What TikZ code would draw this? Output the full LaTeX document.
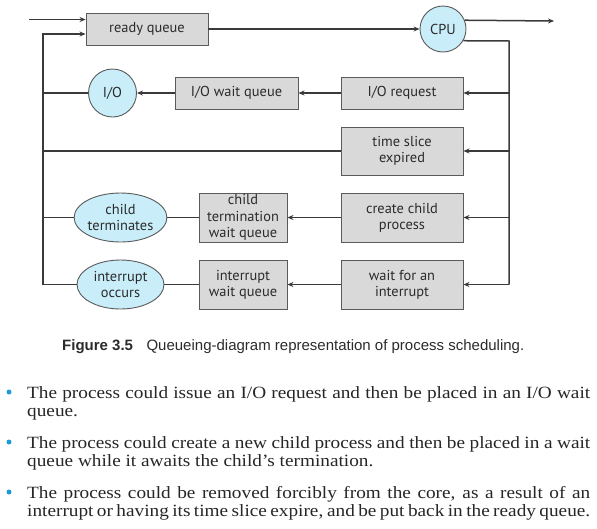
\documentclass[tikz,border=0pt]{standalone}
\usepackage{fontspec}
\newfontfamily\boxfont{PT Sans}
\newfontfamily\capfont{Liberation Sans}
\newfontfamily\bodyfont[FakeStretch=1.12]{Liberation Serif}
\usetikzlibrary{arrows.meta,shapes.geometric}
\definecolor{boxfill}{HTML}{D9D9D9}
\definecolor{circfill}{HTML}{C9EEFA}
\definecolor{edge}{HTML}{3A3A3A}
\definecolor{bordc}{HTML}{5A5A5A}
\definecolor{bul}{HTML}{1B9BD7}
\definecolor{txt}{HTML}{2B2B2B}
\begin{document}
\begin{tikzpicture}[x=1pt,y=-1pt,
  qbox/.style={draw=bordc, fill=boxfill, line width=0.9pt, font=\boxfont\fontsize{14.4}{16.2}\selectfont, text=txt, align=center, inner sep=0pt},
  qcirc/.style={draw=bordc, fill=circfill, line width=0.9pt, circle, font=\boxfont\fontsize{14.4}{16.2}\selectfont, text=txt, align=center, inner sep=0pt},
  qell/.style={draw=bordc, fill=circfill, line width=0.9pt, ellipse, font=\boxfont\fontsize{14.4}{16.2}\selectfont, text=txt, align=center, inner sep=0pt},
  conn/.style={draw=edge, line width=1.5pt},
  arr/.style={conn, -{Stealth[length=6pt,width=5pt]}},
  bulletdot/.style={circle, fill=bul, inner sep=0pt, minimum size=5pt},
  bodyline/.style={anchor=base west, inner sep=0pt, text=black!85, font=\bodyfont\fontsize{17.2}{18}\selectfont},
]
\useasboundingbox (0,0) rectangle (597,528);
% nodes
\node[qbox, minimum width=122pt, minimum height=32pt] (rq) at (147,29) {ready queue};
\node[qcirc, minimum size=46pt] (cpu) at (443,29) {CPU};
\node[qcirc, minimum size=48pt] (iow) at (112.5,93) {I/O};
\node[qbox, minimum width=123pt, minimum height=32pt] (iowq) at (236.5,93) {I/O wait queue};
\node[qbox, minimum width=122pt, minimum height=32pt] (ioreq) at (402,93) {I/O request};
\node[qbox, minimum width=122pt, minimum height=48pt] (ts) at (402,151) {time slice\\expired};
\node[qbox, minimum width=122pt, minimum height=49pt] (ccp) at (402,217.5) {create child\\process};
\node[qbox, minimum width=122pt, minimum height=49pt] (wfi) at (402,284.5) {wait for an\\interrupt};
\node[qbox, minimum width=88pt, minimum height=49pt] (ctwq) at (243,217.5) {child\\termination\\wait queue};
\node[qbox, minimum width=88pt, minimum height=49pt] (iwq) at (243,284.5) {interrupt\\wait queue};
\node[qell, minimum width=87pt, minimum height=49pt] (ct) at (120.5,217.5) {child\\terminates};
\node[qell, minimum width=87pt, minimum height=49pt] (io) at (120.5,284.5) {interrupt\\occurs};
% coordinates
\coordinate (inp) at (29,19.5);
\coordinate (lt) at (43,34);
\coordinate (rt) at (509,41);
\coordinate (rb) at (509,284.5);
\coordinate (outp) at (554,21);
% connectors
\draw[arr] (inp) -- (inp -| rq.west);
\draw[arr] (io.west) -| (lt) -- (lt -| rq.west);
\draw[arr] (rq.east) -- (cpu.west);
\draw[arr] (cpu.22) -- (outp);
\draw[conn] (cpu.-30) -- (rt) -- (rb);
\draw[arr] (ioreq.east -| rt) -- (ioreq.east);
\draw[arr] (ts.east -| rt) -- (ts.east);
\draw[arr] (ccp.east -| rt) -- (ccp.east);
\draw[arr] (rb) -- (wfi.east);
\draw[arr] (ioreq.west) -- (iowq.east);
\draw[arr] (iowq.west) -- (iow.east);
\draw[conn] (iow.west) -- (iow.west -| lt);
\draw[conn] (ts.west) -- (ts.west -| lt);
\draw[arr] (ccp.west) -- (ctwq.east);
\draw[conn] (ctwq.west) -- (ct.east);
\draw[conn] (ct.west) -- (ct.west -| lt);
\draw[arr] (wfi.west) -- (iwq.east);
\draw[conn] (iwq.west) -- (io.east);
% caption
\node[anchor=base west, inner sep=0pt, text=txt, font=\capfont\fontsize{15}{17}\selectfont] (cap) at (62,350) {\textbf{Figure 3.5}\hspace{0.9em}Queueing-diagram representation of process scheduling.};
% bullets
\node[bulletdot] (d1) at (9,392) {};
\node[bulletdot] (d2) at (9,442) {};
\node[bulletdot] (d3) at (9,492) {};
\node[bodyline] (l1) at (27,398) {\makebox[563pt][s]{The process could issue an I/O request and then be placed in an I/O wait}};
\node[bodyline] (l2) at (27,416) {queue.};
\node[bodyline] (l3) at (27,448) {\makebox[563pt][s]{The process could create a new child process and then be placed in a wait}};
\node[bodyline] (l4) at (27,466) {queue while it awaits the child’s termination.};
\node[bodyline] (l5) at (27,498) {\makebox[563pt][s]{The process could be removed forcibly from the core, as a result of an}};
\node[bodyline] (l6) at (27,516) {\makebox[563pt][s]{interrupt or having its time slice expire, and be put back in the ready queue.}};
\end{tikzpicture}
\end{document}
